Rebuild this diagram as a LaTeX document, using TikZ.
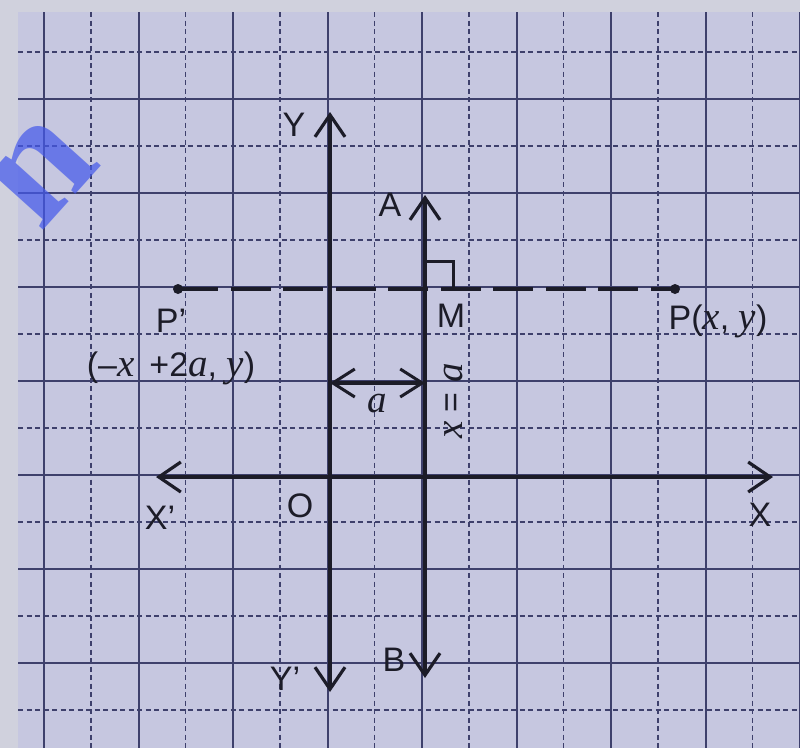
\documentclass[tikz,border=0pt]{standalone}
\usepackage{fontspec}
\setmainfont{Liberation Serif}
\setsansfont{Liberation Sans}
\usetikzlibrary{arrows.meta}
\definecolor{paper}{RGB}{198,199,224}
\definecolor{margin}{RGB}{208,209,221}
\definecolor{gridc}{RGB}{62,64,108}
\definecolor{ink}{RGB}{28,28,40}
\definecolor{wm}{RGB}{70,90,235}
\newcommand\mi[1]{{\rmfamily\itshape\fontsize{39}{39}\selectfont #1}}
\begin{document}
\begin{tikzpicture}[x=1pt,y=-1pt,
  gsolid/.style={draw=gridc, line width=2pt},
  gdash/.style={draw=gridc, line width=1.5pt, dash pattern=on 5pt off 3.5pt},
  tip/.style={-{Straight Barb[length=22pt,width=30pt,line width=3.2pt]}},
  axis/.style={draw=ink, line width=3.5pt, tip},
  dbl/.style={draw=ink, line width=3.2pt, {Straight Barb[length=22pt,width=28pt,line width=3pt]}-{Straight Barb[length=22pt,width=28pt,line width=3pt]}},
  lbl/.style={text=ink, font=\sffamily\fontsize{34}{34}\selectfont, inner sep=0pt},
  dotc/.style={fill=ink}
]
\useasboundingbox (0,0) rectangle (800,748);
\fill[margin] (0,0) rectangle (800,748);
\fill[paper] (18,12) rectangle (800,748);
% grid
\foreach \i in {0,...,8} {\draw[gsolid] ({44+94.5*\i},12) -- ({44+94.5*\i},748);}
\foreach \i in {0,...,7} {\draw[gdash] ({91+94.5*\i},12) -- ({91+94.5*\i},748);}
\foreach \i in {0,...,6} {\draw[gsolid] (18,{99+94*\i}) -- (800,{99+94*\i});}
\foreach \i in {0,...,7} {\draw[gdash] (18,{52+94*\i}) -- (800,{52+94*\i});}
% watermark
\node[text=wm, opacity=0.72, rotate=48, inner sep=0pt,
  font=\rmfamily\bfseries\fontsize{168}{168}\selectfont] (wm) at (42,172) {n};
% coordinates
\coordinate (Ytop) at (330,112);
\coordinate (Ybot) at (330,692);
\coordinate (Xl) at (156,477);
\coordinate (Xr) at (773,477);
\coordinate (Atop) at (425,195);
\coordinate (Bbot) at (425,678);
\coordinate (Pp) at (178,289);
\coordinate (P) at (675,289);
\coordinate (ML) at (330,383);
\coordinate (MR) at (425,383);
% axes
\draw[axis] (Ybot) ++(0,-30) -- (Ytop);
\draw[axis] (Ytop) ++(0,100) -- (Ybot);
\draw[axis] (Xr) ++(-100,0) -- (Xl);
\draw[axis] (Xl) ++(100,0) -- (Xr);
\draw[draw=ink, line width=3.5pt] (330,140) -- (330,660);
\draw[draw=ink, line width=3.5pt] (185,477) -- (745,477);
% line AB
\draw[axis] (425,400) -- (Atop);
\draw[axis] (425,400) -- (Bbot);
% dashed line
\draw[draw=ink, line width=3.4pt, dash pattern=on 40pt off 12.5pt] (Pp) -- (P);
\fill[dotc] (Pp) circle (5pt);
\fill[dotc] (P) circle (5pt);
% right angle
\draw[draw=ink, line width=3pt] (425,261) -- (453,261) -- (453,289);
% a arrow
\draw[dbl] (ML) -- (MR);
% labels
\node[lbl] (Ylab) at (294,125) {Y};
\node[lbl] (Alab) at (390,205) {A};
\node[lbl] (Mlab) at (451,316) {M};
\node[lbl] (Pplab) at (171,321) {P’};
\node[lbl] (Ppco) at (171,368) {(–\mi{x}\, +2\mi{a}, \mi{y})};
\node[lbl] (Plab) at (718,321) {P(\mi{x}, \mi{y})};
\node[lbl] (alab) at (377,404) {\mi{a}};
\node[lbl, rotate=90] (xeqa) at (454,401) {\mi{x} = \mi{a}};
\node[lbl] (Olab) at (300,506) {O};
\node[lbl] (Xplab) at (160,518) {X’};
\node[lbl] (Xlab) at (760,515) {X};
\node[lbl] (Yplab) at (285,679) {Y’};
\node[lbl] (Blab) at (394,660) {B};
\end{tikzpicture}
\end{document}
